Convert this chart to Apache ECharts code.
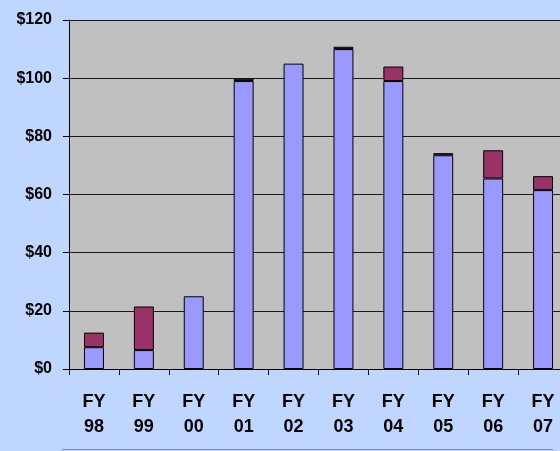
<!DOCTYPE html>
<html>
<head>
<meta charset="utf-8">
<script src="https://cdn.jsdelivr.net/npm/echarts@6/dist/echarts.min.js"></script>
<style>
  html, body { margin:0; padding:0; background:#bfd7ff; }
  #chart { width:560px; height:451px; }
</style>
</head>
<body>
<div id="chart"></div>
<script>
// fiscal years on the x axis
var years = ['FY\n98','FY\n99','FY\n00','FY\n01','FY\n02','FY\n03','FY\n04','FY\n05','FY\n06','FY\n07'];
// lower (blue) part of each bar
var baseVals = [7.5, 6.5, 25, 99, 105, 110, 99, 73.5, 65.5, 61.5];
// upper (maroon) part, '-' where there is none
var topVals = [5, 15, '-', 0.8, '-', 0.8, 5, 0.7, 9.7, 4.8];
var yTicks = [0, 20, 40, 60, 80, 100, 120];

var chart = echarts.init(document.getElementById('chart'));
var option = {
  backgroundColor: '#bfd7ff',
  animation: false,
  grid: { left: 69, top: 20, width: 499, bottom: 82, show: true, backgroundColor: '#c0c0c0', borderWidth: 0,
    outerBoundsMode: 'none' },
  graphic: [
    { type: 'line', shape: { x1: 62, y1: 449.5, x2: 553, y2: 449.5 }, style: { stroke: '#7f8fa8', lineWidth: 1 } }
  ],
  xAxis: {
    type: 'category', data: years,
    axisLine: { lineStyle: { color: '#000', width: 1 } },
    axisTick: { show: true, length: 6, lineStyle: { color: '#000' } },
    axisLabel: { fontFamily: 'Liberation Sans, Arial', fontWeight: 'bold', fontSize: 18, color: '#000', lineHeight: 25, margin: 21, interval: 0 }
  },
  yAxis: {
    type: 'value', min: yTicks[0], max: yTicks[yTicks.length - 1], interval: 20,
    axisLine: { show: true, lineStyle: { color: '#000', width: 1 } },
    axisTick: { show: true, length: 6, lineStyle: { color: '#000' } },
    splitLine: { lineStyle: { color: '#1a1a1a', width: 1 } },
    axisLabel: { fontFamily: 'Liberation Sans, Arial', fontWeight: 'bold', fontSize: 16, color: '#000', margin: 17,
      formatter: function (v) { return '$' + v; } }
  },
  series: [
    { type: 'bar', stack: 'a', data: baseVals, barWidth: '40%',
      itemStyle: { color: '#9999ff', borderColor: '#000', borderWidth: 1 } },
    { type: 'bar', stack: 'a', data: topVals, barWidth: '40%',
      itemStyle: { color: '#993366', borderColor: '#000', borderWidth: 1 } }
  ]
};
chart.setOption(option);
</script>
</body>
</html>
